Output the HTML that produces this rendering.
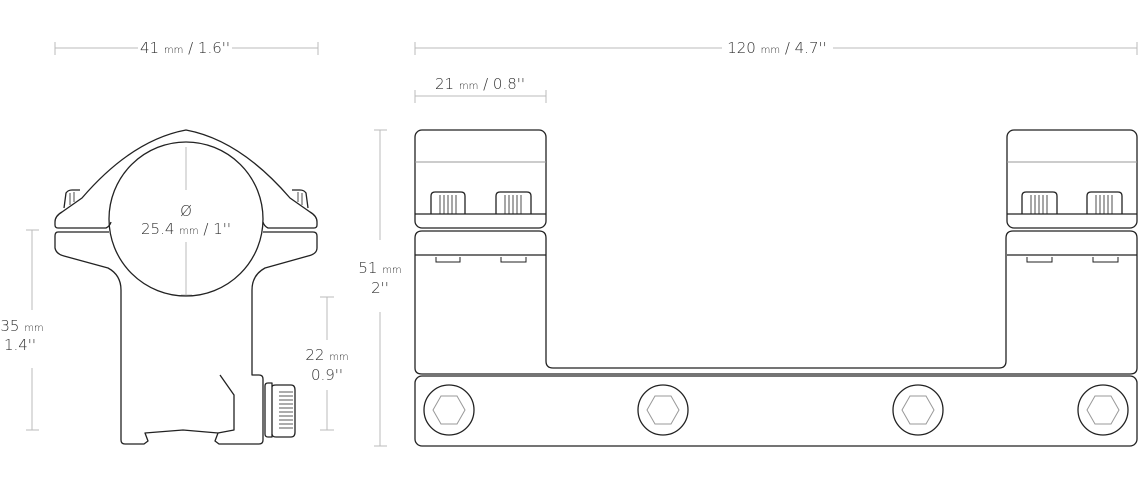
<!DOCTYPE html>
<html><head><meta charset="utf-8"><style>
html,body{margin:0;padding:0;background:#fff;}
svg{display:block;}
text{font-family:"DejaVu Sans","Liberation Sans",sans-serif;fill:#333;font-weight:300;}
.big{font-size:15px;}
.sm{font-size:10px;}
</style></head><body>
<svg width="1140" height="500" viewBox="0 0 1140 500" xmlns="http://www.w3.org/2000/svg">
<g stroke="#bbb" stroke-width="1" fill="none">
 <path d="M55 48H138 M232 48H318 M55 42V55 M318 42V55"/>
 <path d="M415 48H722 M833 48H1137 M415 42V55 M1137 42V55"/>
 <path d="M415 96H546 M415 90V103 M546 90V103"/>
 <path d="M380 130V240 M380 312V446 M374 130H387 M374 446H387"/>
 <path d="M32 230V310 M32 368V430 M26 230H39 M26 430H39"/>
 <path d="M327 297V340 M327 390V430 M320 297H334 M320 430H334"/>
 <path d="M186 147V190 M186 242V295 M181 295H192"/>
</g>
<text x="185" y="53" text-anchor="middle" class="big">41 <tspan class="sm">mm</tspan> / 1.6''</text>
<text x="777" y="53" text-anchor="middle" class="big">120 <tspan class="sm">mm</tspan> / 4.7''</text>
<text x="480" y="89" text-anchor="middle" class="big">21 <tspan class="sm">mm</tspan> / 0.8''</text>
<text x="380" y="273" text-anchor="middle" class="big">51 <tspan class="sm">mm</tspan></text>
<text x="380" y="293" text-anchor="middle" class="big">2''</text>
<text x="22" y="331" text-anchor="middle" class="big">35 <tspan class="sm">mm</tspan></text>
<text x="20" y="350" text-anchor="middle" class="big">1.4''</text>
<text x="327" y="360" text-anchor="middle" class="big">22 <tspan class="sm">mm</tspan></text>
<text x="327" y="380" text-anchor="middle" class="big">0.9''</text>
<text x="186" y="216" text-anchor="middle" class="big">Ø</text>
<text x="186" y="234" text-anchor="middle" class="big">25.4 <tspan class="sm">mm</tspan> / 1''</text>

<g stroke="#222" stroke-width="1.3" fill="none" stroke-linejoin="round">
 <path d="M111 222 Q110 226 106 228 H58 Q55 228 55 225 V222 Q55 216 62 212 L82 198 Q132 140 186 130 Q240 140 290 198 L310 212 Q317 216 317 222 V225 Q317 228 314 228 H268 Q264 226 263 222"/>
 <path d="M64 208 L66 193 Q68 190 72 190 L80 190 M308 208 L306 193 Q304 190 300 190 L292 190"/>
 <path d="M70 193 V205 M74 192 V202 M302 193 V205 M298 192 V202" stroke-width="0.8"/>
 <circle cx="186" cy="219" r="77"/>
 <path d="M109 232 H58 Q55 232 55 236 V248 Q56 254 64 256 L108 268 Q121 275 121 290 V440 Q121 444 125 444 H144 L148 441 L145 433 L183 430 L218 433 L215 441 L219 444 H259 Q263 444 263 440 V379 Q263 375 259 375 H252 V290 Q252 275 265 268 L308 256 Q317 254 317 248 V236 Q317 232 313 232 H263"/>
 <path d="M220 375 L234 395 V430 L218 433"/>
 <path d="M265 386 Q265 383 268 383 H272 V437 H268 Q265 437 265 434 Z"/>
 <path d="M272 387 Q272 385 276 385 H291 Q295 385 295 390 V432 Q295 437 291 437 H276 Q272 437 272 434"/>
</g>
<g stroke="#222" stroke-width="0.7">
 <path d="M279 392H293 M279 396H293 M279 400H293 M279 404H293 M279 408H293 M279 412H293 M279 416H293 M279 420H293 M279 424H293 M279 428H293"/>
</g>

<g stroke="#222" stroke-width="1.3" fill="none">
 <rect x="415" y="130" width="131" height="98" rx="7"/>
 <rect x="1007" y="130" width="130" height="98" rx="7"/>
 <path d="M422 231 H539 Q546 231 546 238 V361 Q546 368 553 368 H999 Q1006 368 1006 361 V238 Q1006 231 1013 231 H1130 Q1137 231 1137 238 V368 Q1137 374 1130 374 H422 Q415 374 415 368 V238 Q415 231 422 231 Z"/>
 <rect x="415" y="376" width="722" height="70" rx="7"/>
 <path d="M415 214H546 M1007 214H1137 M415 255H546 M1007 255H1137"/>
 <circle cx="449" cy="410" r="25"/><circle cx="663" cy="410" r="25"/>
 <circle cx="918" cy="410" r="25"/><circle cx="1103" cy="410" r="25"/>
 <path d="M431 214 V196 Q431 192 435 192 H461 Q465 192 465 196 V214 M496 214 V196 Q496 192 500 192 H527 Q531 192 531 196 V214"/>
 <path d="M1022 214 V196 Q1022 192 1026 192 H1053 Q1057 192 1057 196 V214 M1087 214 V196 Q1087 192 1091 192 H1118 Q1122 192 1122 196 V214"/>
 <path d="M436 257 V262 H460 V257 M501 257 V262 H526 V257 M1027 257 V262 H1052 V257 M1093 257 V262 H1118 V257" stroke-width="1"/>
</g>
<g stroke="#222" stroke-width="0.8">
 <path d="M440 195V214 M444 195V214 M448 195V214 M452 195V214 M456 195V214 M505 195V214 M509 195V214 M513 195V214 M517 195V214 M521 195V214"/>
 <path d="M1031 195V214 M1035 195V214 M1039 195V214 M1043 195V214 M1047 195V214 M1096 195V214 M1100 195V214 M1104 195V214 M1108 195V214 M1112 195V214"/>
</g>
<g stroke="#999" stroke-width="1" fill="none">
 <path d="M415 162H546 M1007 162H1137"/>
 <polygon points="433,410 441,396 457,396 465,410 457,424 441,424"/>
 <polygon points="647,410 655,396 671,396 679,410 671,424 655,424"/>
 <polygon points="902,410 910,396 926,396 934,410 926,424 910,424"/>
 <polygon points="1087,410 1095,396 1111,396 1119,410 1111,424 1095,424"/>
</g>
</svg>
</body></html>
